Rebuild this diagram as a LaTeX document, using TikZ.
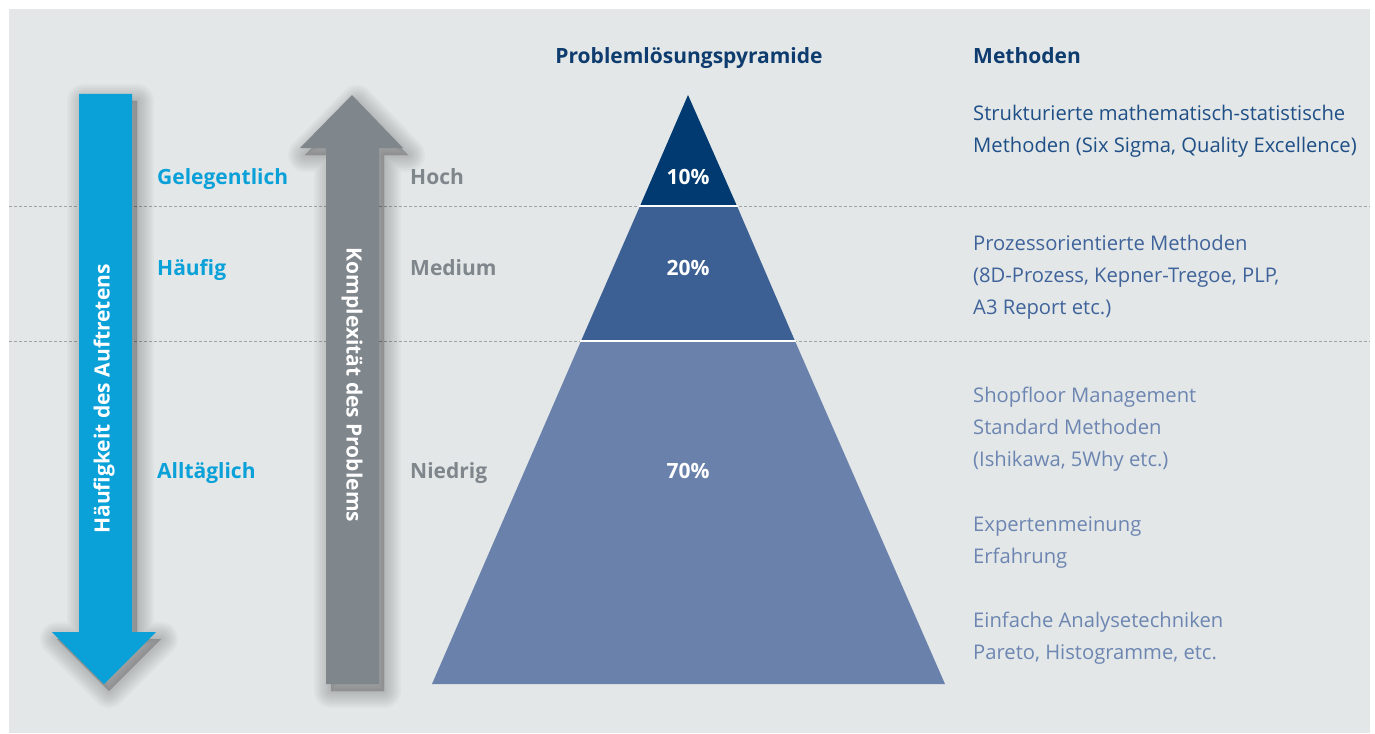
\documentclass[tikz,border=0pt]{standalone}
\usepackage{fontspec}
\setmainfont{Open Sans}
\definecolor{bg}{HTML}{E3E7E8}
\definecolor{arrblue}{HTML}{0AA1D9}
\definecolor{arrgray}{HTML}{7F868C}
\definecolor{pyrtop}{HTML}{003A70}
\definecolor{pyrmid}{HTML}{3C6093}
\definecolor{pyrbot}{HTML}{6A82AB}
\definecolor{navy}{HTML}{0E3C6E}
\definecolor{txtA}{HTML}{1F4F86}
\definecolor{txtB}{HTML}{3F639A}
\definecolor{txtC}{HTML}{6D86B1}
\definecolor{dotline}{HTML}{9FA4A7}
\newcommand\bluearrowpath{(79,94) -- (132,94) -- (132,632) -- (156,632) -- (104,684) -- (52,632) -- (79,632) -- cycle}
\newcommand\grayarrowpath{(326,684) -- (379,684) -- (379,148) -- (403,148) -- (352,95) -- (300,148) -- (326,148) -- cycle}
\tikzset{
  lbl/.style={font=\fontsize{21}{24}\selectfont\bfseries, anchor=base west, inner sep=0pt},
  pct/.style={font=\fontsize{21}{24}\selectfont\bfseries, text=white, inner sep=0pt, anchor=base},
  meth/.style={font=\fontsize{20.2}{32}\selectfont, anchor=north west, inner sep=0pt, align=left},
  arrtext/.style={font=\fontsize{21}{24}\selectfont\bfseries, text=white, inner sep=0pt},
  shadlayer/.style={black, opacity=0.022, line join=round, shift={(5,7)}},
  sep/.style={dotline, line width=0.8pt, dash pattern=on 2.5pt off 2.5pt}
}
\begin{document}
\begin{tikzpicture}[x=1pt,y=-1pt]
\useasboundingbox (0,0) rectangle (1375,733);
\fill[bg] (9,9) rectangle (1370,733);
% separator lines
\draw[sep] (9,206) -- (1370,206);
\draw[sep] (9,341) -- (1370,341);
% soft shadows
\foreach \w in {34,30,26,22,18,14,10,6,2}{
  \filldraw[shadlayer, line width=\w pt] \bluearrowpath;
  \filldraw[shadlayer, line width=\w pt] \grayarrowpath;
}
% arrows
\fill[arrblue] \bluearrowpath;
\fill[arrgray] \grayarrowpath;
\node[arrtext, rotate=90] (freq) at (104,399) {Häufigkeit des Auftretens};
\node[arrtext, rotate=-90] (compl) at (352,385) {Komplexität des Problems};
% pyramid
\fill[pyrbot] (581,341) -- (795,341) -- (945,684) -- (432,684) -- cycle;
\fill[pyrmid] (640,206) -- (737,206) -- (795,341) -- (581,341) -- cycle;
\fill[pyrtop] (688,95) -- (737,206) -- (640,206) -- cycle;
\draw[white, line width=1.5pt] (639,206) -- (738,206);
\draw[white, line width=1.5pt] (580,341) -- (796,341);
\node[pct] (p10) at (688,184) {10\%};
\node[pct] (p20) at (688,275) {20\%};
\node[pct] (p70) at (688,478) {70\%};
% headings
\node[lbl, anchor=base, text=navy] (title) at (689,64) {Problemlösungspyramide};
\node[lbl, text=navy] (meth) at (973,64) {Methoden};
% left labels
\node[lbl, text=arrblue] (gel) at (157,184) {Gelegentlich};
\node[lbl, text=arrblue] (hf) at (157,275) {Häufig};
\node[lbl, text=arrblue] (allt) at (157,478) {Alltäglich};
\node[lbl, text=arrgray] (hoch) at (410,184) {Hoch};
\node[lbl, text=arrgray] (med) at (410,275) {Medium};
\node[lbl, text=arrgray] (nied) at (410,478) {Niedrig};
% methods
\node[meth, text=txtA] (m1) at (973,105) {Strukturierte mathematisch-statistische\\Methoden (Six Sigma, Quality Excellence)};
\node[meth, text=txtB] (m2) at (973,235) {Prozessorientierte Methoden\\(8D-Prozess, Kepner-Tregoe, PLP,\\A3 Report etc.)};
\node[meth, text=txtC] (m3) at (973,387) {Shopfloor Management\\Standard Methoden\\(Ishikawa, 5Why etc.)};
\node[meth, text=txtC] (m4) at (973,516) {Expertenmeinung\\Erfahrung};
\node[meth, text=txtC] (m5) at (973,612) {Einfache Analysetechniken\\Pareto, Histogramme, etc.};
\end{tikzpicture}
\end{document}
